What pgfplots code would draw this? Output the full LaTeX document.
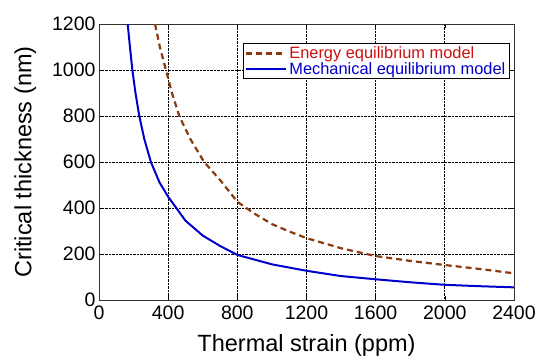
\documentclass[border=0pt]{standalone}
\usepackage{pgfplots}
\pgfplotsset{compat=1.18}
\usepackage{fontspec}
\setmainfont{Liberation Sans}
\definecolor{energy}{HTML}{8B3A10}
\definecolor{energytext}{HTML}{CC1111}
\definecolor{mech}{HTML}{0000CC}
\begin{document}
\begin{tikzpicture}
\begin{axis}[name=ax,
  scale only axis, width=415pt, height=276pt,
  xmin=0, xmax=2400, ymin=0, ymax=1200,
  xtick={0,400,...,2400}, ytick={0,200,...,1200},
  /pgf/number format/assume math mode=true,
  /pgf/number format/1000 sep={},
  tick label style={font=\fontsize{19.5}{19.5}\selectfont},
  xticklabel style={yshift=-2pt},
  label style={font=\fontsize{23.5}{23.5}\selectfont},
  xlabel={Thermal strain (ppm)}, ylabel={Critical thickness (nm)},
  xlabel style={yshift=-8pt},
  ylabel style={yshift=9pt},
  grid=major, major grid style={black, densely dotted, line width=0.8pt},
  axis line style={black!80, line width=0.9pt},
  tick align=inside, tick pos=both, major tick length=4pt,
  tick style={black, line width=0.6pt},
  legend style={at={(rel axis cs:0.99,0.93)}, anchor=north east, draw=black, line width=0.9pt,
    font=\fontsize{16.4}{16.4}\selectfont, inner xsep=2pt, inner ysep=1pt, row sep=-2pt},
  legend cell align=left,
  legend image code/.code={\draw[#1] (0cm,0cm) -- (1.4cm,0cm);},
]
\addplot[energy, line width=2.2pt, dash pattern=on 6pt off 4pt] coordinates {
(324,1200) (352,1100) (387,1000) (422,900) (464,800) (528,700) (608,600) (700,522) (800,427) (900,375) (1000,330) (1100,298) (1200,269) (1400,225) (1600,191) (1800,170) (2000,152) (2200,135) (2400,116)};
\addlegendentry{\textcolor{energytext}{Energy equilibrium model}}
\addplot[mech, line width=2pt] coordinates {
(166,1200) (179,1100) (193,1000) (211,900) (233,800) (262,700) (300,600) (350,511) (400,449) (500,345) (600,280) (700,235) (800,196) (1000,155) (1200,127) (1400,104) (1600,90) (1800,77) (2000,66) (2200,60) (2400,55)};
\addlegendentry{\textcolor{mech}{Mechanical equilibrium model}}
\end{axis}
\pgfresetboundingbox
\path[use as bounding box] (ax.south west) ++(-99pt,-63pt) rectangle ++(550pt,363pt);
\end{tikzpicture}
\end{document}
